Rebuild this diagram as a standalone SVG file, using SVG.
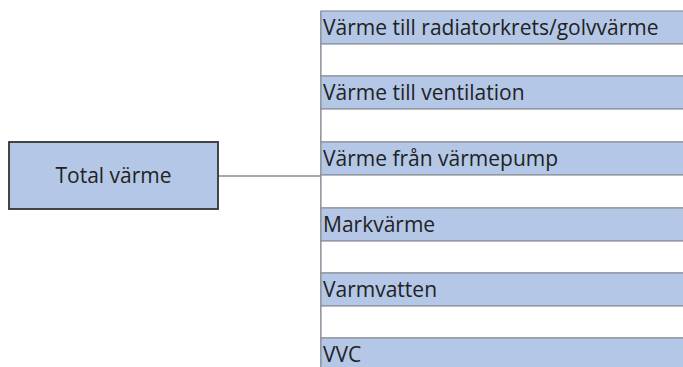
<svg xmlns="http://www.w3.org/2000/svg" width="683" height="367" viewBox="0 0 683 367">
<style>
.blue{fill:#b4c7e7;stroke:#8a8f99;stroke-width:1.2}
.white{fill:#ffffff;stroke:#8a8f99;stroke-width:1.2}
.lbl{font-family:"Open Sans","Noto Sans",sans-serif;font-size:21px;fill:#222}
.conn{stroke:#8c8c8c;stroke-width:1.5;fill:none}
</style>
<rect width="683" height="367" fill="#fff"/>
<g id="connectors">
<line class="conn" x1="218" y1="176" x2="321" y2="176"/>
<line class="conn" x1="321" y1="11" x2="321" y2="367"/>
</g>
<g id="total">
<rect x="9" y="142" width="209" height="67" fill="#b4c7e7" stroke="#333" stroke-width="1.8"/>
<text class="lbl" x="113.5" y="183" text-anchor="middle" font-size="22.5">Total värme</text>
</g>
<g id="row1"><rect class="blue" x="321" y="11" width="370" height="33"/><text class="lbl" x="323" y="35">Värme till radiatorkrets/golvvärme</text></g>
<g id="gap1"><rect class="white" x="321" y="44" width="370" height="32"/></g>
<g id="row2"><rect class="blue" x="321" y="76" width="370" height="33"/><text class="lbl" x="323" y="100">Värme till ventilation</text></g>
<g id="gap2"><rect class="white" x="321" y="109" width="370" height="33"/></g>
<g id="row3"><rect class="blue" x="321" y="142" width="370" height="33"/><text class="lbl" x="323" y="166">Värme från värmepump</text></g>
<g id="gap3"><rect class="white" x="321" y="175" width="370" height="33"/></g>
<g id="row4"><rect class="blue" x="321" y="208" width="370" height="33"/><text class="lbl" x="323" y="232">Markvärme</text></g>
<g id="gap4"><rect class="white" x="321" y="241" width="370" height="32"/></g>
<g id="row5"><rect class="blue" x="321" y="273" width="370" height="33"/><text class="lbl" x="323" y="297">Varmvatten</text></g>
<g id="gap5"><rect class="white" x="321" y="306" width="370" height="32"/></g>
<g id="row6"><rect class="blue" x="321" y="338" width="370" height="40"/><text class="lbl" x="323" y="362">VVC</text></g>
</svg>
